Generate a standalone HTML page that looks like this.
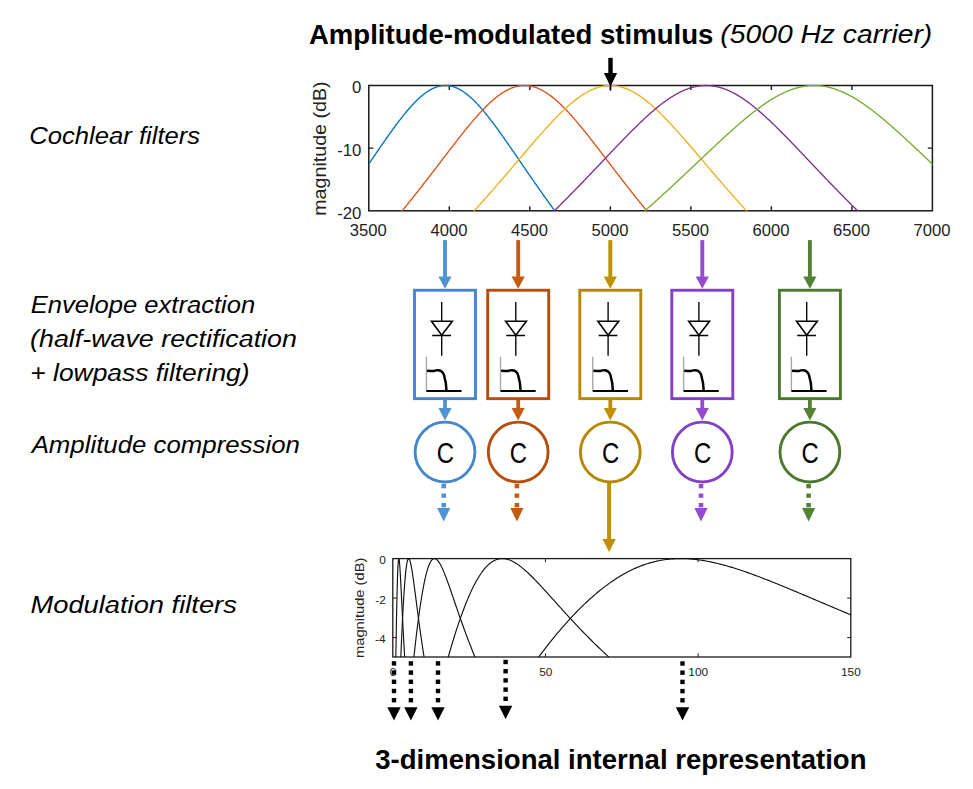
<!DOCTYPE html>
<html><head><meta charset="utf-8"><style>
html,body{margin:0;padding:0;background:#fff;overflow:hidden;}
svg{display:block;font-family:"Liberation Sans", sans-serif;font-kerning:none;font-variant-ligatures:none;}
</style></head><body>
<svg width="973" height="789" viewBox="0 0 973 789">
<rect width="973" height="789" fill="#fff"/>
<text x="308.91" y="43.60" font-size="27.5" font-weight="bold" font-style="normal" textLength="404.52" lengthAdjust="spacingAndGlyphs" fill="#000" >Amplitude-modulated stimulus</text>
<text x="720.38" y="43.30" font-size="26" font-weight="normal" font-style="italic" textLength="211.91" lengthAdjust="spacingAndGlyphs" fill="#000" >(5000 Hz carrier)</text>
<text x="375.27" y="768.60" font-size="27.5" font-weight="bold" font-style="normal" textLength="491.24" lengthAdjust="spacingAndGlyphs" fill="#000" >3-dimensional internal representation</text>
<text x="29.29" y="143.90" font-size="24.5" font-weight="normal" font-style="italic" textLength="170.84" lengthAdjust="spacingAndGlyphs" fill="#000" >Cochlear filters</text>
<text x="30.71" y="313.00" font-size="24.5" font-weight="normal" font-style="italic" textLength="224.45" lengthAdjust="spacingAndGlyphs" fill="#000" >Envelope extraction</text>
<text x="30.04" y="346.80" font-size="24.5" font-weight="normal" font-style="italic" textLength="266.88" lengthAdjust="spacingAndGlyphs" fill="#000" >(half-wave rectification</text>
<text x="30.33" y="380.90" font-size="24.5" font-weight="normal" font-style="italic" textLength="219.25" lengthAdjust="spacingAndGlyphs" fill="#000" >+ lowpass filtering)</text>
<text x="31.67" y="453.30" font-size="24.5" font-weight="normal" font-style="italic" textLength="268.20" lengthAdjust="spacingAndGlyphs" fill="#000" >Amplitude compression</text>
<text x="30.46" y="613.40" font-size="24.5" font-weight="normal" font-style="italic" textLength="206.40" lengthAdjust="spacingAndGlyphs" fill="#000" >Modulation filters</text>
<defs><clipPath id="cp1"><rect x="368.8" y="84.5" width="563.5999999999999" height="126.30000000000001"/></clipPath><clipPath id="cp2"><rect x="393.1" y="557.8" width="457.9" height="99.20000000000005"/></clipPath></defs>
<rect x="368.8" y="85.5" width="563.5999999999999" height="125.30000000000001" fill="none" stroke="#1a1a1a" stroke-width="1.5"/>
<path d="M449.31 210.8 v-4.6 M449.31 85.5 v4.6 M529.83 210.8 v-4.6 M529.83 85.5 v4.6 M610.34 210.8 v-4.6 M610.34 85.5 v4.6 M690.86 210.8 v-4.6 M690.86 85.5 v4.6 M771.37 210.8 v-4.6 M771.37 85.5 v4.6 M851.89 210.8 v-4.6 M851.89 85.5 v4.6 M368.8 148.15 h4.6 M932.4 148.15 h-4.6" stroke="#1a1a1a" stroke-width="1.4" fill="none"/>
<text x="349.81" y="236.00" font-size="16.3" font-weight="normal" font-style="normal" textLength="36.99" lengthAdjust="spacingAndGlyphs" fill="#222" >3500</text>
<text x="430.50" y="236.00" font-size="16.3" font-weight="normal" font-style="normal" textLength="36.99" lengthAdjust="spacingAndGlyphs" fill="#222" >4000</text>
<text x="511.06" y="236.00" font-size="16.3" font-weight="normal" font-style="normal" textLength="36.99" lengthAdjust="spacingAndGlyphs" fill="#222" >4500</text>
<text x="591.47" y="236.00" font-size="16.3" font-weight="normal" font-style="normal" textLength="36.99" lengthAdjust="spacingAndGlyphs" fill="#222" >5000</text>
<text x="672.03" y="236.00" font-size="16.3" font-weight="normal" font-style="normal" textLength="36.99" lengthAdjust="spacingAndGlyphs" fill="#222" >5500</text>
<text x="752.50" y="236.00" font-size="16.3" font-weight="normal" font-style="normal" textLength="36.99" lengthAdjust="spacingAndGlyphs" fill="#222" >6000</text>
<text x="833.05" y="236.00" font-size="16.3" font-weight="normal" font-style="normal" textLength="36.99" lengthAdjust="spacingAndGlyphs" fill="#222" >6500</text>
<text x="913.61" y="236.00" font-size="16.3" font-weight="normal" font-style="normal" textLength="36.99" lengthAdjust="spacingAndGlyphs" fill="#222" >7000</text>
<text x="352.12" y="93.10" font-size="16.3" font-weight="normal" font-style="normal" textLength="9.34" lengthAdjust="spacingAndGlyphs" fill="#222" >0</text>
<text x="337.19" y="155.75" font-size="16.3" font-weight="normal" font-style="normal" textLength="24.27" lengthAdjust="spacingAndGlyphs" fill="#222" >-10</text>
<text x="337.19" y="219.00" font-size="16.3" font-weight="normal" font-style="normal" textLength="24.27" lengthAdjust="spacingAndGlyphs" fill="#222" >-20</text>
<g transform="rotate(-90)"><text x="-215.81" y="326.00" font-size="18.5" font-weight="normal" font-style="normal" textLength="134.42" lengthAdjust="spacingAndGlyphs" fill="#222" >magnitude (dB)</text></g>
<polyline points="352.70,187.23 353.34,186.31 353.99,185.39 354.63,184.47 355.27,183.55 355.92,182.62 356.56,181.69 357.21,180.77 357.85,179.84 358.49,178.91 359.14,177.98 359.78,177.04 360.43,176.11 361.07,175.18 361.71,174.24 362.36,173.31 363.00,172.37 363.65,171.43 364.29,170.49 364.94,169.56 365.58,168.62 366.22,167.68 366.87,166.74 367.51,165.80 368.16,164.86 368.80,163.91 369.44,162.97 370.09,162.03 370.73,161.09 371.38,160.15 372.02,159.21 372.66,158.27 373.31,157.32 373.95,156.38 374.60,155.44 375.24,154.50 375.89,153.56 376.53,152.62 377.17,151.69 377.82,150.75 378.46,149.81 379.11,148.88 379.75,147.94 380.39,147.01 381.04,146.08 381.68,145.15 382.33,144.22 382.97,143.29 383.61,142.36 384.26,141.44 384.90,140.52 385.55,139.60 386.19,138.68 386.84,137.76 387.48,136.85 388.12,135.94 388.77,135.03 389.41,134.12 390.06,133.22 390.70,132.32 391.34,131.43 391.99,130.53 392.63,129.64 393.28,128.76 393.92,127.87 394.56,127.00 395.21,126.12 395.85,125.25 396.50,124.39 397.14,123.53 397.79,122.67 398.43,121.82 399.07,120.97 399.72,120.13 400.36,119.29 401.01,118.46 401.65,117.64 402.29,116.82 402.94,116.01 403.58,115.20 404.23,114.40 404.87,113.61 405.51,112.82 406.16,112.05 406.80,111.27 407.45,110.51 408.09,109.75 408.74,109.00 409.38,108.26 410.02,107.53 410.67,106.81 411.31,106.09 411.96,105.38 412.60,104.69 413.24,104.00 413.89,103.32 414.53,102.65 415.18,101.99 415.82,101.34 416.46,100.70 417.11,100.07 417.75,99.45 418.40,98.85 419.04,98.25 419.69,97.66 420.33,97.09 420.97,96.53 421.62,95.98 422.26,95.44 422.91,94.92 423.55,94.40 424.19,93.90 424.84,93.42 425.48,92.94 426.13,92.48 426.77,92.03 427.41,91.60 428.06,91.18 428.70,90.77 429.35,90.38 429.99,90.00 430.63,89.64 431.28,89.29 431.92,88.95 432.57,88.63 433.21,88.33 433.86,88.04 434.50,87.76 435.14,87.50 435.79,87.26 436.43,87.03 437.08,86.82 437.72,86.62 438.36,86.44 439.01,86.27 439.65,86.12 440.30,85.99 440.94,85.87 441.58,85.77 442.23,85.68 442.87,85.61 443.52,85.56 444.16,85.52 444.81,85.50 445.45,85.50 446.09,85.51 446.74,85.54 447.38,85.59 448.03,85.65 448.67,85.72 449.31,85.82 449.96,85.93 450.60,86.05 451.25,86.19 451.89,86.35 452.53,86.53 453.18,86.72 453.82,86.92 454.47,87.14 455.11,87.38 455.76,87.63 456.40,87.90 457.04,88.18 457.69,88.48 458.33,88.79 458.98,89.12 459.62,89.46 460.26,89.82 460.91,90.19 461.55,90.57 462.20,90.97 462.84,91.39 463.48,91.81 464.13,92.26 464.77,92.71 465.42,93.18 466.06,93.66 466.71,94.15 467.35,94.66 467.99,95.18 468.64,95.71 469.28,96.25 469.93,96.81 470.57,97.38 471.21,97.96 471.86,98.55 472.50,99.15 473.15,99.76 473.79,100.38 474.43,101.02 475.08,101.66 475.72,102.32 476.37,102.98 477.01,103.66 477.66,104.34 478.30,105.03 478.94,105.74 479.59,106.45 480.23,107.17 480.88,107.89 481.52,108.63 482.16,109.38 482.81,110.13 483.45,110.89 484.10,111.66 484.74,112.43 485.38,113.22 486.03,114.01 486.67,114.80 487.32,115.61 487.96,116.41 488.61,117.23 489.25,118.05 489.89,118.88 490.54,119.71 491.18,120.55 491.83,121.39 492.47,122.24 493.11,123.10 493.76,123.96 494.40,124.82 495.05,125.69 495.69,126.56 496.33,127.44 496.98,128.32 497.62,129.20 498.27,130.09 498.91,130.98 499.56,131.87 500.20,132.77 500.84,133.67 501.49,134.58 502.13,135.48 502.78,136.39 503.42,137.31 504.06,138.22 504.71,139.14 505.35,140.06 506.00,140.98 506.64,141.90 507.28,142.83 507.93,143.75 508.57,144.68 509.22,145.61 509.86,146.54 510.51,147.48 511.15,148.41 511.79,149.34 512.44,150.28 513.08,151.22 513.73,152.16 514.37,153.09 515.01,154.03 515.66,154.97 516.30,155.91 516.95,156.85 517.59,157.79 518.23,158.74 518.88,159.68 519.52,160.62 520.17,161.56 520.81,162.50 521.46,163.44 522.10,164.38 522.74,165.33 523.39,166.27 524.03,167.21 524.68,168.15 525.32,169.09 525.96,170.02 526.61,170.96 527.25,171.90 527.90,172.84 528.54,173.77 529.18,174.71 529.83,175.64 530.47,176.58 531.12,177.51 531.76,178.44 532.41,179.37 533.05,180.30 533.69,181.23 534.34,182.16 534.98,183.08 535.63,184.01 536.27,184.93 536.91,185.85 537.56,186.77 538.20,187.69 538.85,188.61 539.49,189.53 540.13,190.44 540.78,191.36 541.42,192.27 542.07,193.18 542.71,194.09 543.35,195.00 544.00,195.91 544.64,196.81 545.29,197.71 545.93,198.61 546.58,199.51 547.22,200.41 547.86,201.31 548.51,202.20 549.15,203.09 549.80,203.98 550.44,204.87 551.08,205.76 551.73,206.65 552.37,207.53 553.02,208.41 553.66,209.29 554.30,210.17 554.95,211.05 555.59,211.92 556.24,212.79 556.88,213.66 557.53,214.53 558.17,215.40 558.81,216.26 559.46,217.12 560.10,217.98 560.75,218.84 561.39,219.70" fill="none" stroke="#0072BD" stroke-width="1.35" clip-path="url(#cp1)"/>
<polyline points="394.56,219.95 395.21,219.18 395.85,218.41 396.50,217.64 397.14,216.87 397.79,216.10 398.43,215.32 399.07,214.55 399.72,213.77 400.36,212.99 401.01,212.21 401.65,211.43 402.29,210.65 402.94,209.86 403.58,209.08 404.23,208.29 404.87,207.50 405.51,206.71 406.16,205.91 406.80,205.12 407.45,204.32 408.09,203.53 408.74,202.73 409.38,201.93 410.02,201.13 410.67,200.33 411.31,199.52 411.96,198.72 412.60,197.91 413.24,197.10 413.89,196.29 414.53,195.48 415.18,194.67 415.82,193.86 416.46,193.04 417.11,192.23 417.75,191.41 418.40,190.59 419.04,189.77 419.69,188.95 420.33,188.13 420.97,187.31 421.62,186.49 422.26,185.66 422.91,184.83 423.55,184.01 424.19,183.18 424.84,182.35 425.48,181.52 426.13,180.69 426.77,179.86 427.41,179.03 428.06,178.19 428.70,177.36 429.35,176.52 429.99,175.69 430.63,174.85 431.28,174.01 431.92,173.18 432.57,172.34 433.21,171.50 433.86,170.66 434.50,169.82 435.14,168.98 435.79,168.14 436.43,167.29 437.08,166.45 437.72,165.61 438.36,164.77 439.01,163.93 439.65,163.08 440.30,162.24 440.94,161.40 441.58,160.55 442.23,159.71 442.87,158.87 443.52,158.03 444.16,157.18 444.81,156.34 445.45,155.50 446.09,154.66 446.74,153.82 447.38,152.97 448.03,152.13 448.67,151.29 449.31,150.46 449.96,149.62 450.60,148.78 451.25,147.94 451.89,147.11 452.53,146.27 453.18,145.44 453.82,144.61 454.47,143.78 455.11,142.95 455.76,142.12 456.40,141.29 457.04,140.46 457.69,139.64 458.33,138.82 458.98,138.00 459.62,137.18 460.26,136.36 460.91,135.55 461.55,134.74 462.20,133.93 462.84,133.12 463.48,132.31 464.13,131.51 464.77,130.71 465.42,129.91 466.06,129.12 466.71,128.33 467.35,127.54 467.99,126.75 468.64,125.97 469.28,125.19 469.93,124.42 470.57,123.65 471.21,122.88 471.86,122.12 472.50,121.36 473.15,120.60 473.79,119.85 474.43,119.10 475.08,118.36 475.72,117.62 476.37,116.89 477.01,116.16 477.66,115.44 478.30,114.72 478.94,114.01 479.59,113.30 480.23,112.60 480.88,111.90 481.52,111.21 482.16,110.53 482.81,109.85 483.45,109.18 484.10,108.51 484.74,107.86 485.38,107.20 486.03,106.56 486.67,105.92 487.32,105.29 487.96,104.66 488.61,104.05 489.25,103.44 489.89,102.84 490.54,102.24 491.18,101.66 491.83,101.08 492.47,100.51 493.11,99.95 493.76,99.40 494.40,98.86 495.05,98.32 495.69,97.80 496.33,97.28 496.98,96.77 497.62,96.28 498.27,95.79 498.91,95.31 499.56,94.84 500.20,94.38 500.84,93.94 501.49,93.50 502.13,93.07 502.78,92.65 503.42,92.25 504.06,91.85 504.71,91.47 505.35,91.09 506.00,90.73 506.64,90.38 507.28,90.04 507.93,89.71 508.57,89.40 509.22,89.09 509.86,88.80 510.51,88.52 511.15,88.25 511.79,87.99 512.44,87.75 513.08,87.52 513.73,87.30 514.37,87.09 515.01,86.89 515.66,86.71 516.30,86.54 516.95,86.38 517.59,86.24 518.23,86.11 518.88,85.99 519.52,85.88 520.17,85.79 520.81,85.71 521.46,85.64 522.10,85.59 522.74,85.55 523.39,85.52 524.03,85.50 524.68,85.50 525.32,85.51 525.96,85.54 526.61,85.57 527.25,85.62 527.90,85.69 528.54,85.76 529.18,85.85 529.83,85.95 530.47,86.07 531.12,86.20 531.76,86.34 532.41,86.49 533.05,86.66 533.69,86.84 534.34,87.03 534.98,87.23 535.63,87.45 536.27,87.68 536.91,87.92 537.56,88.17 538.20,88.44 538.85,88.71 539.49,89.00 540.13,89.30 540.78,89.62 541.42,89.94 542.07,90.28 542.71,90.63 543.35,90.98 544.00,91.35 544.64,91.74 545.29,92.13 545.93,92.53 546.58,92.94 547.22,93.37 547.86,93.80 548.51,94.25 549.15,94.70 549.80,95.17 550.44,95.64 551.08,96.13 551.73,96.62 552.37,97.13 553.02,97.64 553.66,98.16 554.30,98.69 554.95,99.23 555.59,99.78 556.24,100.34 556.88,100.91 557.53,101.48 558.17,102.07 558.81,102.66 559.46,103.26 560.10,103.86 560.75,104.48 561.39,105.10 562.03,105.73 562.68,106.36 563.32,107.01 563.97,107.66 564.61,108.32 565.25,108.98 565.90,109.65 566.54,110.32 567.19,111.01 567.83,111.70 568.48,112.39 569.12,113.09 569.76,113.80 570.41,114.51 571.05,115.22 571.70,115.94 572.34,116.67 572.98,117.40 573.63,118.14 574.27,118.88 574.92,119.63 575.56,120.38 576.20,121.13 576.85,121.89 577.49,122.65 578.14,123.42 578.78,124.19 579.43,124.96 580.07,125.74 580.71,126.52 581.36,127.30 582.00,128.09 582.65,128.88 583.29,129.67 583.93,130.47 584.58,131.27 585.22,132.07 585.87,132.88 586.51,133.68 587.15,134.49 587.80,135.30 588.44,136.12 589.09,136.93 589.73,137.75 590.38,138.57 591.02,139.39 591.66,140.22 592.31,141.04 592.95,141.87 593.60,142.70 594.24,143.53 594.88,144.36 595.53,145.19 596.17,146.02 596.82,146.86 597.46,147.69 598.10,148.53 598.75,149.37 599.39,150.20 600.04,151.04 600.68,151.88 601.33,152.72 601.97,153.56 602.61,154.40 603.26,155.25 603.90,156.09 604.55,156.93 605.19,157.77 605.83,158.61 606.48,159.46 607.12,160.30 607.77,161.14 608.41,161.99 609.05,162.83 609.70,163.67 610.34,164.51 610.99,165.36 611.63,166.20 612.28,167.04 612.92,167.88 613.56,168.72 614.21,169.56 614.85,170.41 615.50,171.25 616.14,172.08 616.78,172.92 617.43,173.76 618.07,174.60 618.72,175.44 619.36,176.27 620.00,177.11 620.65,177.94 621.29,178.77 621.94,179.61 622.58,180.44 623.23,181.27 623.87,182.10 624.51,182.93 625.16,183.76 625.80,184.59 626.45,185.41 627.09,186.24 627.73,187.06 628.38,187.88 629.02,188.71 629.67,189.53 630.31,190.35 630.95,191.16 631.60,191.98 632.24,192.80 632.89,193.61 633.53,194.43 634.18,195.24 634.82,196.05 635.46,196.86 636.11,197.67 636.75,198.47 637.40,199.28 638.04,200.08 638.68,200.89 639.33,201.69 639.97,202.49 640.62,203.29 641.26,204.09 641.90,204.88 642.55,205.68 643.19,206.47 643.84,207.26 644.48,208.05 645.13,208.84 645.77,209.63 646.41,210.41 647.06,211.19 647.70,211.98 648.35,212.76 648.99,213.54 649.63,214.32 650.28,215.09 650.92,215.87 651.57,216.64 652.21,217.41 652.85,218.18 653.50,218.95 654.14,219.72" fill="none" stroke="#D95319" stroke-width="1.35" clip-path="url(#cp1)"/>
<polyline points="466.06,219.56 466.71,218.87 467.35,218.18 467.99,217.49 468.64,216.80 469.28,216.11 469.93,215.41 470.57,214.71 471.21,214.02 471.86,213.32 472.50,212.62 473.15,211.92 473.79,211.21 474.43,210.51 475.08,209.80 475.72,209.10 476.37,208.39 477.01,207.68 477.66,206.97 478.30,206.26 478.94,205.55 479.59,204.83 480.23,204.12 480.88,203.40 481.52,202.69 482.16,201.97 482.81,201.25 483.45,200.53 484.10,199.81 484.74,199.09 485.38,198.36 486.03,197.64 486.67,196.91 487.32,196.18 487.96,195.46 488.61,194.73 489.25,194.00 489.89,193.27 490.54,192.53 491.18,191.80 491.83,191.07 492.47,190.33 493.11,189.60 493.76,188.86 494.40,188.12 495.05,187.38 495.69,186.64 496.33,185.90 496.98,185.16 497.62,184.42 498.27,183.68 498.91,182.93 499.56,182.19 500.20,181.44 500.84,180.70 501.49,179.95 502.13,179.20 502.78,178.45 503.42,177.70 504.06,176.96 504.71,176.20 505.35,175.45 506.00,174.70 506.64,173.95 507.28,173.20 507.93,172.45 508.57,171.69 509.22,170.94 509.86,170.18 510.51,169.43 511.15,168.67 511.79,167.92 512.44,167.16 513.08,166.41 513.73,165.65 514.37,164.89 515.01,164.14 515.66,163.38 516.30,162.62 516.95,161.87 517.59,161.11 518.23,160.35 518.88,159.60 519.52,158.84 520.17,158.08 520.81,157.33 521.46,156.57 522.10,155.81 522.74,155.06 523.39,154.30 524.03,153.55 524.68,152.79 525.32,152.04 525.96,151.28 526.61,150.53 527.25,149.78 527.90,149.02 528.54,148.27 529.18,147.52 529.83,146.77 530.47,146.02 531.12,145.27 531.76,144.53 532.41,143.78 533.05,143.04 533.69,142.29 534.34,141.55 534.98,140.81 535.63,140.07 536.27,139.33 536.91,138.59 537.56,137.85 538.20,137.12 538.85,136.38 539.49,135.65 540.13,134.92 540.78,134.20 541.42,133.47 542.07,132.75 542.71,132.02 543.35,131.30 544.00,130.59 544.64,129.87 545.29,129.16 545.93,128.45 546.58,127.74 547.22,127.03 547.86,126.33 548.51,125.63 549.15,124.93 549.80,124.23 550.44,123.54 551.08,122.85 551.73,122.17 552.37,121.49 553.02,120.81 553.66,120.13 554.30,119.46 554.95,118.79 555.59,118.12 556.24,117.46 556.88,116.81 557.53,116.15 558.17,115.50 558.81,114.86 559.46,114.22 560.10,113.58 560.75,112.95 561.39,112.32 562.03,111.70 562.68,111.08 563.32,110.46 563.97,109.85 564.61,109.25 565.25,108.65 565.90,108.06 566.54,107.47 567.19,106.89 567.83,106.31 568.48,105.74 569.12,105.18 569.76,104.62 570.41,104.06 571.05,103.52 571.70,102.97 572.34,102.44 572.98,101.91 573.63,101.39 574.27,100.87 574.92,100.36 575.56,99.86 576.20,99.37 576.85,98.88 577.49,98.40 578.14,97.93 578.78,97.46 579.43,97.00 580.07,96.55 580.71,96.11 581.36,95.67 582.00,95.24 582.65,94.82 583.29,94.41 583.93,94.01 584.58,93.61 585.22,93.23 585.87,92.85 586.51,92.48 587.15,92.12 587.80,91.77 588.44,91.42 589.09,91.09 589.73,90.76 590.38,90.45 591.02,90.14 591.66,89.84 592.31,89.55 592.95,89.27 593.60,89.00 594.24,88.74 594.88,88.49 595.53,88.25 596.17,88.02 596.82,87.80 597.46,87.59 598.10,87.38 598.75,87.19 599.39,87.01 600.04,86.84 600.68,86.68 601.33,86.53 601.97,86.39 602.61,86.26 603.26,86.14 603.90,86.03 604.55,85.93 605.19,85.84 605.83,85.76 606.48,85.69 607.12,85.63 607.77,85.58 608.41,85.55 609.05,85.52 609.70,85.51 610.34,85.50 610.99,85.51 611.63,85.52 612.28,85.55 612.92,85.58 613.56,85.63 614.21,85.69 614.85,85.76 615.50,85.84 616.14,85.93 616.78,86.03 617.43,86.14 618.07,86.26 618.72,86.39 619.36,86.53 620.00,86.68 620.65,86.84 621.29,87.01 621.94,87.19 622.58,87.38 623.23,87.59 623.87,87.80 624.51,88.02 625.16,88.25 625.80,88.49 626.45,88.74 627.09,89.00 627.73,89.27 628.38,89.55 629.02,89.84 629.67,90.14 630.31,90.45 630.95,90.76 631.60,91.09 632.24,91.42 632.89,91.77 633.53,92.12 634.18,92.48 634.82,92.85 635.46,93.23 636.11,93.61 636.75,94.01 637.40,94.41 638.04,94.82 638.68,95.24 639.33,95.67 639.97,96.11 640.62,96.55 641.26,97.00 641.90,97.46 642.55,97.93 643.19,98.40 643.84,98.88 644.48,99.37 645.13,99.86 645.77,100.36 646.41,100.87 647.06,101.39 647.70,101.91 648.35,102.44 648.99,102.97 649.63,103.52 650.28,104.06 650.92,104.62 651.57,105.18 652.21,105.74 652.85,106.31 653.50,106.89 654.14,107.47 654.79,108.06 655.43,108.65 656.07,109.25 656.72,109.85 657.36,110.46 658.01,111.08 658.65,111.70 659.30,112.32 659.94,112.95 660.58,113.58 661.23,114.22 661.87,114.86 662.52,115.50 663.16,116.15 663.80,116.81 664.45,117.46 665.09,118.12 665.74,118.79 666.38,119.46 667.02,120.13 667.67,120.81 668.31,121.49 668.96,122.17 669.60,122.85 670.25,123.54 670.89,124.23 671.53,124.93 672.18,125.63 672.82,126.33 673.47,127.03 674.11,127.74 674.75,128.45 675.40,129.16 676.04,129.87 676.69,130.59 677.33,131.30 677.97,132.02 678.62,132.75 679.26,133.47 679.91,134.20 680.55,134.92 681.20,135.65 681.84,136.38 682.48,137.12 683.13,137.85 683.77,138.59 684.42,139.33 685.06,140.07 685.70,140.81 686.35,141.55 686.99,142.29 687.64,143.04 688.28,143.78 688.92,144.53 689.57,145.27 690.21,146.02 690.86,146.77 691.50,147.52 692.15,148.27 692.79,149.02 693.43,149.78 694.08,150.53 694.72,151.28 695.37,152.04 696.01,152.79 696.65,153.55 697.30,154.30 697.94,155.06 698.59,155.81 699.23,156.57 699.87,157.33 700.52,158.08 701.16,158.84 701.81,159.60 702.45,160.35 703.10,161.11 703.74,161.87 704.38,162.62 705.03,163.38 705.67,164.14 706.32,164.89 706.96,165.65 707.60,166.41 708.25,167.16 708.89,167.92 709.54,168.67 710.18,169.43 710.82,170.18 711.47,170.94 712.11,171.69 712.76,172.45 713.40,173.20 714.05,173.95 714.69,174.70 715.33,175.45 715.98,176.20 716.62,176.96 717.27,177.70 717.91,178.45 718.55,179.20 719.20,179.95 719.84,180.70 720.49,181.44 721.13,182.19 721.77,182.93 722.42,183.68 723.06,184.42 723.71,185.16 724.35,185.90 725.00,186.64 725.64,187.38 726.28,188.12 726.93,188.86 727.57,189.60 728.22,190.33 728.86,191.07 729.50,191.80 730.15,192.53 730.79,193.27 731.44,194.00 732.08,194.73 732.72,195.46 733.37,196.18 734.01,196.91 734.66,197.64 735.30,198.36 735.95,199.09 736.59,199.81 737.23,200.53 737.88,201.25 738.52,201.97 739.17,202.69 739.81,203.40 740.45,204.12 741.10,204.83 741.74,205.55 742.39,206.26 743.03,206.97 743.67,207.68 744.32,208.39 744.96,209.10 745.61,209.80 746.25,210.51 746.90,211.21 747.54,211.92 748.18,212.62 748.83,213.32 749.47,214.02 750.12,214.71 750.76,215.41 751.40,216.11 752.05,216.80 752.69,217.49 753.34,218.18 753.98,218.87 754.62,219.56" fill="none" stroke="#EDB120" stroke-width="1.35" clip-path="url(#cp1)"/>
<polyline points="545.29,219.60 545.93,218.98 546.58,218.36 547.22,217.74 547.86,217.12 548.51,216.49 549.15,215.87 549.80,215.24 550.44,214.62 551.08,213.99 551.73,213.36 552.37,212.74 553.02,212.11 553.66,211.48 554.30,210.84 554.95,210.21 555.59,209.58 556.24,208.94 556.88,208.31 557.53,207.67 558.17,207.03 558.81,206.40 559.46,205.76 560.10,205.12 560.75,204.47 561.39,203.83 562.03,203.19 562.68,202.54 563.32,201.90 563.97,201.25 564.61,200.61 565.25,199.96 565.90,199.31 566.54,198.66 567.19,198.01 567.83,197.36 568.48,196.71 569.12,196.05 569.76,195.40 570.41,194.75 571.05,194.09 571.70,193.43 572.34,192.78 572.98,192.12 573.63,191.46 574.27,190.80 574.92,190.14 575.56,189.48 576.20,188.82 576.85,188.15 577.49,187.49 578.14,186.83 578.78,186.16 579.43,185.50 580.07,184.83 580.71,184.16 581.36,183.50 582.00,182.83 582.65,182.16 583.29,181.49 583.93,180.82 584.58,180.15 585.22,179.48 585.87,178.81 586.51,178.14 587.15,177.46 587.80,176.79 588.44,176.12 589.09,175.44 589.73,174.77 590.38,174.09 591.02,173.42 591.66,172.74 592.31,172.06 592.95,171.39 593.60,170.71 594.24,170.03 594.88,169.35 595.53,168.68 596.17,168.00 596.82,167.32 597.46,166.64 598.10,165.96 598.75,165.28 599.39,164.60 600.04,163.92 600.68,163.24 601.33,162.57 601.97,161.89 602.61,161.21 603.26,160.53 603.90,159.85 604.55,159.17 605.19,158.49 605.83,157.81 606.48,157.13 607.12,156.45 607.77,155.77 608.41,155.09 609.05,154.41 609.70,153.73 610.34,153.06 610.99,152.38 611.63,151.70 612.28,151.02 612.92,150.35 613.56,149.67 614.21,149.00 614.85,148.32 615.50,147.65 616.14,146.97 616.78,146.30 617.43,145.63 618.07,144.96 618.72,144.29 619.36,143.62 620.00,142.95 620.65,142.28 621.29,141.61 621.94,140.94 622.58,140.28 623.23,139.61 623.87,138.95 624.51,138.29 625.16,137.63 625.80,136.97 626.45,136.31 627.09,135.65 627.73,135.00 628.38,134.35 629.02,133.69 629.67,133.04 630.31,132.39 630.95,131.74 631.60,131.10 632.24,130.45 632.89,129.81 633.53,129.17 634.18,128.53 634.82,127.90 635.46,127.26 636.11,126.63 636.75,126.00 637.40,125.37 638.04,124.75 638.68,124.12 639.33,123.50 639.97,122.88 640.62,122.27 641.26,121.65 641.90,121.04 642.55,120.43 643.19,119.83 643.84,119.23 644.48,118.63 645.13,118.03 645.77,117.44 646.41,116.85 647.06,116.26 647.70,115.67 648.35,115.09 648.99,114.52 649.63,113.94 650.28,113.37 650.92,112.81 651.57,112.24 652.21,111.68 652.85,111.13 653.50,110.58 654.14,110.03 654.79,109.48 655.43,108.95 656.07,108.41 656.72,107.88 657.36,107.35 658.01,106.83 658.65,106.31 659.30,105.80 659.94,105.29 660.58,104.79 661.23,104.29 661.87,103.79 662.52,103.30 663.16,102.82 663.80,102.34 664.45,101.87 665.09,101.40 665.74,100.94 666.38,100.48 667.02,100.03 667.67,99.58 668.31,99.14 668.96,98.70 669.60,98.27 670.25,97.85 670.89,97.43 671.53,97.02 672.18,96.61 672.82,96.21 673.47,95.82 674.11,95.43 674.75,95.05 675.40,94.68 676.04,94.31 676.69,93.95 677.33,93.60 677.97,93.25 678.62,92.91 679.26,92.58 679.91,92.25 680.55,91.93 681.20,91.62 681.84,91.31 682.48,91.01 683.13,90.72 683.77,90.44 684.42,90.16 685.06,89.89 685.70,89.63 686.35,89.38 686.99,89.13 687.64,88.89 688.28,88.66 688.92,88.44 689.57,88.23 690.21,88.02 690.86,87.82 691.50,87.63 692.15,87.44 692.79,87.27 693.43,87.10 694.08,86.94 694.72,86.79 695.37,86.65 696.01,86.52 696.65,86.39 697.30,86.27 697.94,86.16 698.59,86.06 699.23,85.97 699.87,85.88 700.52,85.81 701.16,85.74 701.81,85.68 702.45,85.63 703.10,85.59 703.74,85.55 704.38,85.53 705.03,85.51 705.67,85.50 706.32,85.50 706.96,85.51 707.60,85.53 708.25,85.55 708.89,85.59 709.54,85.63 710.18,85.68 710.82,85.74 711.47,85.81 712.11,85.88 712.76,85.97 713.40,86.06 714.05,86.16 714.69,86.27 715.33,86.39 715.98,86.52 716.62,86.65 717.27,86.79 717.91,86.94 718.55,87.10 719.20,87.27 719.84,87.45 720.49,87.63 721.13,87.82 721.77,88.02 722.42,88.23 723.06,88.44 723.71,88.66 724.35,88.90 725.00,89.13 725.64,89.38 726.28,89.63 726.93,89.90 727.57,90.16 728.22,90.44 728.86,90.72 729.50,91.01 730.15,91.31 730.79,91.62 731.44,91.93 732.08,92.25 732.72,92.58 733.37,92.91 734.01,93.25 734.66,93.60 735.30,93.95 735.95,94.31 736.59,94.68 737.23,95.06 737.88,95.44 738.52,95.82 739.17,96.22 739.81,96.62 740.45,97.02 741.10,97.43 741.74,97.85 742.39,98.27 743.03,98.70 743.67,99.14 744.32,99.58 744.96,100.03 745.61,100.48 746.25,100.94 746.90,101.40 747.54,101.87 748.18,102.34 748.83,102.82 749.47,103.31 750.12,103.80 750.76,104.29 751.40,104.79 752.05,105.29 752.69,105.80 753.34,106.31 753.98,106.83 754.62,107.35 755.27,107.88 755.91,108.41 756.56,108.95 757.20,109.49 757.85,110.03 758.49,110.58 759.13,111.13 759.78,111.69 760.42,112.24 761.07,112.81 761.71,113.37 762.35,113.94 763.00,114.52 763.64,115.10 764.29,115.68 764.93,116.26 765.57,116.85 766.22,117.44 766.86,118.03 767.51,118.63 768.15,119.23 768.79,119.83 769.44,120.44 770.08,121.04 770.73,121.66 771.37,122.27 772.02,122.89 772.66,123.50 773.30,124.12 773.95,124.75 774.59,125.37 775.24,126.00 775.88,126.63 776.52,127.26 777.17,127.90 777.81,128.54 778.46,129.17 779.10,129.82 779.74,130.46 780.39,131.10 781.03,131.75 781.68,132.40 782.32,133.04 782.97,133.70 783.61,134.35 784.25,135.00 784.90,135.66 785.54,136.31 786.19,136.97 786.83,137.63 787.47,138.29 788.12,138.95 788.76,139.62 789.41,140.28 790.05,140.95 790.69,141.61 791.34,142.28 791.98,142.95 792.63,143.62 793.27,144.29 793.92,144.96 794.56,145.63 795.20,146.30 795.85,146.98 796.49,147.65 797.14,148.32 797.78,149.00 798.42,149.67 799.07,150.35 799.71,151.03 800.36,151.70 801.00,152.38 801.64,153.06 802.29,153.74 802.93,154.41 803.58,155.09 804.22,155.77 804.87,156.45 805.51,157.13 806.15,157.81 806.80,158.49 807.44,159.17 808.09,159.85 808.73,160.53 809.37,161.21 810.02,161.89 810.66,162.57 811.31,163.25 811.95,163.93 812.59,164.61 813.24,165.29 813.88,165.96 814.53,166.64 815.17,167.32 815.82,168.00 816.46,168.68 817.10,169.36 817.75,170.04 818.39,170.71 819.04,171.39 819.68,172.07 820.32,172.74 820.97,173.42 821.61,174.09 822.26,174.77 822.90,175.44 823.54,176.12 824.19,176.79 824.83,177.47 825.48,178.14 826.12,178.81 826.77,179.48 827.41,180.15 828.05,180.82 828.70,181.49 829.34,182.16 829.99,182.83 830.63,183.50 831.27,184.17 831.92,184.83 832.56,185.50 833.21,186.17 833.85,186.83 834.49,187.49 835.14,188.16 835.78,188.82 836.43,189.48 837.07,190.14 837.72,190.80 838.36,191.46 839.00,192.12 839.65,192.78 840.29,193.44 840.94,194.09 841.58,194.75 842.22,195.40 842.87,196.06 843.51,196.71 844.16,197.36 844.80,198.01 845.44,198.66 846.09,199.31 846.73,199.96 847.38,200.61 848.02,201.26 848.67,201.90 849.31,202.55 849.95,203.19 850.60,203.83 851.24,204.48 851.89,205.12 852.53,205.76 853.17,206.40 853.82,207.04 854.46,207.67 855.11,208.31 855.75,208.95 856.39,209.58 857.04,210.21 857.68,210.85 858.33,211.48 858.97,212.11 859.62,212.74 860.26,213.37 860.90,213.99 861.55,214.62 862.19,215.25 862.84,215.87 863.48,216.50 864.12,217.12 864.77,217.74 865.41,218.36 866.06,218.98 866.70,219.60" fill="none" stroke="#7E2F8E" stroke-width="1.35" clip-path="url(#cp1)"/>
<polyline points="634.18,220.15 634.82,219.60 635.46,219.04 636.11,218.49 636.75,217.93 637.40,217.37 638.04,216.81 638.68,216.26 639.33,215.70 639.97,215.14 640.62,214.58 641.26,214.01 641.90,213.45 642.55,212.89 643.19,212.32 643.84,211.76 644.48,211.19 645.13,210.62 645.77,210.06 646.41,209.49 647.06,208.92 647.70,208.35 648.35,207.78 648.99,207.21 649.63,206.64 650.28,206.06 650.92,205.49 651.57,204.91 652.21,204.34 652.85,203.76 653.50,203.19 654.14,202.61 654.79,202.03 655.43,201.45 656.07,200.87 656.72,200.29 657.36,199.71 658.01,199.13 658.65,198.55 659.30,197.96 659.94,197.38 660.58,196.79 661.23,196.21 661.87,195.62 662.52,195.04 663.16,194.45 663.80,193.86 664.45,193.27 665.09,192.68 665.74,192.09 666.38,191.50 667.02,190.91 667.67,190.32 668.31,189.73 668.96,189.13 669.60,188.54 670.25,187.95 670.89,187.35 671.53,186.75 672.18,186.16 672.82,185.56 673.47,184.96 674.11,184.37 674.75,183.77 675.40,183.17 676.04,182.57 676.69,181.97 677.33,181.37 677.97,180.77 678.62,180.17 679.26,179.57 679.91,178.96 680.55,178.36 681.20,177.76 681.84,177.16 682.48,176.55 683.13,175.95 683.77,175.34 684.42,174.74 685.06,174.13 685.70,173.53 686.35,172.92 686.99,172.31 687.64,171.71 688.28,171.10 688.92,170.49 689.57,169.89 690.21,169.28 690.86,168.67 691.50,168.06 692.15,167.45 692.79,166.85 693.43,166.24 694.08,165.63 694.72,165.02 695.37,164.41 696.01,163.80 696.65,163.19 697.30,162.58 697.94,161.97 698.59,161.36 699.23,160.75 699.87,160.14 700.52,159.53 701.16,158.92 701.81,158.31 702.45,157.71 703.10,157.10 703.74,156.49 704.38,155.88 705.03,155.27 705.67,154.66 706.32,154.05 706.96,153.44 707.60,152.84 708.25,152.23 708.89,151.62 709.54,151.01 710.18,150.41 710.82,149.80 711.47,149.20 712.11,148.59 712.76,147.99 713.40,147.38 714.05,146.78 714.69,146.17 715.33,145.57 715.98,144.97 716.62,144.37 717.27,143.77 717.91,143.17 718.55,142.57 719.20,141.97 719.84,141.37 720.49,140.77 721.13,140.18 721.77,139.58 722.42,138.99 723.06,138.39 723.71,137.80 724.35,137.21 725.00,136.62 725.64,136.03 726.28,135.44 726.93,134.85 727.57,134.27 728.22,133.68 728.86,133.10 729.50,132.52 730.15,131.93 730.79,131.36 731.44,130.78 732.08,130.20 732.72,129.62 733.37,129.05 734.01,128.48 734.66,127.91 735.30,127.34 735.95,126.77 736.59,126.21 737.23,125.64 737.88,125.08 738.52,124.52 739.17,123.96 739.81,123.40 740.45,122.85 741.10,122.30 741.74,121.75 742.39,121.20 743.03,120.65 743.67,120.11 744.32,119.57 744.96,119.03 745.61,118.49 746.25,117.96 746.90,117.42 747.54,116.89 748.18,116.37 748.83,115.84 749.47,115.32 750.12,114.80 750.76,114.29 751.40,113.77 752.05,113.26 752.69,112.75 753.34,112.25 753.98,111.75 754.62,111.25 755.27,110.75 755.91,110.26 756.56,109.77 757.20,109.29 757.85,108.80 758.49,108.32 759.13,107.85 759.78,107.38 760.42,106.91 761.07,106.44 761.71,105.98 762.35,105.52 763.00,105.07 763.64,104.62 764.29,104.17 764.93,103.73 765.57,103.29 766.22,102.86 766.86,102.43 767.51,102.00 768.15,101.58 768.79,101.16 769.44,100.75 770.08,100.34 770.73,99.94 771.37,99.54 772.02,99.14 772.66,98.75 773.30,98.37 773.95,97.98 774.59,97.61 775.24,97.24 775.88,96.87 776.52,96.51 777.17,96.15 777.81,95.80 778.46,95.45 779.10,95.11 779.74,94.77 780.39,94.44 781.03,94.12 781.68,93.80 782.32,93.48 782.97,93.17 783.61,92.87 784.25,92.57 784.90,92.27 785.54,91.99 786.19,91.71 786.83,91.43 787.47,91.16 788.12,90.89 788.76,90.64 789.41,90.38 790.05,90.14 790.69,89.90 791.34,89.66 791.98,89.43 792.63,89.21 793.27,88.99 793.92,88.78 794.56,88.58 795.20,88.38 795.85,88.19 796.49,88.01 797.14,87.83 797.78,87.65 798.42,87.49 799.07,87.33 799.71,87.18 800.36,87.03 801.00,86.89 801.64,86.76 802.29,86.63 802.93,86.51 803.58,86.40 804.22,86.29 804.87,86.19 805.51,86.10 806.15,86.01 806.80,85.93 807.44,85.86 808.09,85.79 808.73,85.73 809.37,85.68 810.02,85.63 810.66,85.59 811.31,85.56 811.95,85.54 812.59,85.52 813.24,85.51 813.88,85.50 814.53,85.50 815.17,85.51 815.82,85.53 816.46,85.55 817.10,85.58 817.75,85.61 818.39,85.66 819.04,85.70 819.68,85.76 820.32,85.82 820.97,85.89 821.61,85.97 822.26,86.05 822.90,86.14 823.54,86.24 824.19,86.34 824.83,86.45 825.48,86.57 826.12,86.69 826.77,86.82 827.41,86.96 828.05,87.10 828.70,87.25 829.34,87.41 829.99,87.57 830.63,87.74 831.27,87.92 831.92,88.10 832.56,88.29 833.21,88.48 833.85,88.68 834.49,88.89 835.14,89.10 835.78,89.32 836.43,89.55 837.07,89.78 837.72,90.02 838.36,90.26 839.00,90.51 839.65,90.76 840.29,91.03 840.94,91.29 841.58,91.57 842.22,91.85 842.87,92.13 843.51,92.42 844.16,92.72 844.80,93.02 845.44,93.32 846.09,93.64 846.73,93.96 847.38,94.28 848.02,94.61 848.67,94.94 849.31,95.28 849.95,95.62 850.60,95.97 851.24,96.33 851.89,96.69 852.53,97.05 853.17,97.42 853.82,97.80 854.46,98.17 855.11,98.56 855.75,98.95 856.39,99.34 857.04,99.74 857.68,100.14 858.33,100.55 858.97,100.96 859.62,101.37 860.26,101.79 860.90,102.22 861.55,102.64 862.19,103.08 862.84,103.51 863.48,103.95 864.12,104.40 864.77,104.84 865.41,105.30 866.06,105.75 866.70,106.21 867.34,106.68 867.99,107.14 868.63,107.61 869.28,108.09 869.92,108.56 870.57,109.04 871.21,109.53 871.85,110.02 872.50,110.51 873.14,111.00 873.79,111.50 874.43,112.00 875.07,112.50 875.72,113.01 876.36,113.52 877.01,114.03 877.65,114.54 878.29,115.06 878.94,115.58 879.58,116.11 880.23,116.63 880.87,117.16 881.51,117.69 882.16,118.22 882.80,118.76 883.45,119.30 884.09,119.84 884.74,120.38 885.38,120.93 886.02,121.47 886.67,122.02 887.31,122.57 887.96,123.13 888.60,123.68 889.24,124.24 889.89,124.80 890.53,125.36 891.18,125.92 891.82,126.49 892.46,127.05 893.11,127.62 893.75,128.19 894.40,128.76 895.04,129.34 895.69,129.91 896.33,130.49 896.97,131.07 897.62,131.64 898.26,132.23 898.91,132.81 899.55,133.39 900.19,133.97 900.84,134.56 901.48,135.15 902.13,135.73 902.77,136.32 903.41,136.91 904.06,137.50 904.70,138.10 905.35,138.69 905.99,139.28 906.64,139.88 907.28,140.48 907.92,141.07 908.57,141.67 909.21,142.27 909.86,142.87 910.50,143.47 911.14,144.07 911.79,144.67 912.43,145.27 913.08,145.87 913.72,146.48 914.36,147.08 915.01,147.68 915.65,148.29 916.30,148.89 916.94,149.50 917.59,150.11 918.23,150.71 918.87,151.32 919.52,151.93 920.16,152.53 920.81,153.14 921.45,153.75 922.09,154.36 922.74,154.97 923.38,155.57 924.03,156.18 924.67,156.79 925.31,157.40 925.96,158.01 926.60,158.62 927.25,159.23 927.89,159.84 928.54,160.45 929.18,161.06 929.82,161.67 930.47,162.28 931.11,162.89 931.76,163.50 932.40,164.10 933.04,164.71 933.69,165.32 934.33,165.93 934.98,166.54 935.62,167.15 936.26,167.76 936.91,168.37 937.55,168.97 938.20,169.58 938.84,170.19 939.49,170.80 940.13,171.40 940.77,172.01 941.42,172.62 942.06,173.22 942.71,173.83 943.35,174.44 943.99,175.04 944.64,175.65 945.28,176.25 945.93,176.85 946.57,177.46 947.21,178.06 947.86,178.66 948.50,179.27" fill="none" stroke="#77AC30" stroke-width="1.35" clip-path="url(#cp1)"/>
<rect x="608.30" y="57.90" width="4.4" height="15.70" fill="#000"/><path d="M603.85 73.10 L617.15 73.10 L610.50 86.50Z" fill="#000"/>
<rect x="609.8" y="84" width="1.5" height="6.6" fill="#000"/>
<rect x="443.05" y="240.10" width="3.9" height="36.80" fill="#5093D2"/><path d="M438.40 276.40 L451.60 276.40 L445.00 288.70Z" fill="#5093D2"/>
<rect x="414.50" y="290.25" width="61.00" height="108.40" fill="#fff" stroke="#4686CA" stroke-width="2.9"/>
<path d="M441.70 301.9 V321.2 M441.70 335.2 V355.8 M432.20 335.5 H451.00" fill="none" stroke="#000" stroke-width="1.35"/>
<path d="M431.50 321.2 H452.30 L441.70 335.2 Z" fill="none" stroke="#000" stroke-width="1.6" stroke-linejoin="miter"/>
<path d="M426.40 356.8 V391.2" stroke="#a8a8a8" stroke-width="1.4" fill="none"/>
<path d="M426.40 391.0 H461.60" stroke="#000" stroke-width="2.2" fill="none"/>
<path d="M427.00 370.9 C429.40 370.5 431.40 371.3 433.90 370.9 S436.40 370.2 437.60 370.2 C440.90 370.2 442.90 371.5 444.00 375.0 C445.20 379 446.40 384 446.50 390.9" stroke="#000" stroke-width="2.5" fill="none"/>
<rect x="443.10" y="399.50" width="3.8" height="8.90" fill="#5093D2"/><path d="M438.45 407.90 L451.55 407.90 L445.00 420.40Z" fill="#5093D2"/>
<circle cx="445.00" cy="452.05" r="29.90" fill="#fff" stroke="#4686CA" stroke-width="2.9"/>
<text x="436.63" y="462.90" font-size="29.3" font-weight="normal" font-style="normal" textLength="17.25" lengthAdjust="spacingAndGlyphs" fill="#000" >C</text>
<rect x="441.40" y="484.0" width="4.6" height="4.3" fill="#5093D2"/>
<rect x="441.40" y="493.5" width="4.6" height="4.3" fill="#5093D2"/>
<rect x="441.40" y="503.0" width="4.6" height="4.3" fill="#5093D2"/>
<path d="M437.10 508.1 L450.30 508.1 L443.70 521.4Z" fill="#5093D2"/>
<rect x="516.25" y="240.10" width="3.9" height="36.80" fill="#C55A11"/><path d="M511.60 276.40 L524.80 276.40 L518.20 288.70Z" fill="#C55A11"/>
<rect x="487.70" y="290.25" width="61.00" height="108.40" fill="#fff" stroke="#B84E0E" stroke-width="2.9"/>
<path d="M515.80 301.9 V321.2 M515.80 335.2 V355.8 M506.30 335.5 H525.10" fill="none" stroke="#000" stroke-width="1.35"/>
<path d="M505.60 321.2 H526.40 L515.80 335.2 Z" fill="none" stroke="#000" stroke-width="1.6" stroke-linejoin="miter"/>
<path d="M500.50 356.8 V391.2" stroke="#a8a8a8" stroke-width="1.4" fill="none"/>
<path d="M500.50 391.0 H535.70" stroke="#000" stroke-width="2.2" fill="none"/>
<path d="M501.10 370.9 C503.50 370.5 505.50 371.3 508.00 370.9 S510.50 370.2 511.70 370.2 C515.00 370.2 517.00 371.5 518.10 375.0 C519.30 379 520.50 384 520.60 390.9" stroke="#000" stroke-width="2.5" fill="none"/>
<rect x="516.30" y="399.50" width="3.8" height="8.90" fill="#C55A11"/><path d="M511.65 407.90 L524.75 407.90 L518.20 420.40Z" fill="#C55A11"/>
<circle cx="518.20" cy="452.05" r="29.90" fill="#fff" stroke="#B84E0E" stroke-width="2.9"/>
<text x="509.83" y="462.90" font-size="29.3" font-weight="normal" font-style="normal" textLength="17.25" lengthAdjust="spacingAndGlyphs" fill="#000" >C</text>
<rect x="514.60" y="484.0" width="4.6" height="4.3" fill="#C55A11"/>
<rect x="514.60" y="493.5" width="4.6" height="4.3" fill="#C55A11"/>
<rect x="514.60" y="503.0" width="4.6" height="4.3" fill="#C55A11"/>
<path d="M510.30 508.1 L523.50 508.1 L516.90 521.4Z" fill="#C55A11"/>
<rect x="608.35" y="240.10" width="3.9" height="36.80" fill="#BF9000"/><path d="M603.70 276.40 L616.90 276.40 L610.30 288.70Z" fill="#BF9000"/>
<rect x="579.80" y="290.25" width="61.00" height="108.40" fill="#fff" stroke="#B68800" stroke-width="2.9"/>
<path d="M608.10 301.9 V321.2 M608.10 335.2 V355.8 M598.60 335.5 H617.40" fill="none" stroke="#000" stroke-width="1.35"/>
<path d="M597.90 321.2 H618.70 L608.10 335.2 Z" fill="none" stroke="#000" stroke-width="1.6" stroke-linejoin="miter"/>
<path d="M592.80 356.8 V391.2" stroke="#a8a8a8" stroke-width="1.4" fill="none"/>
<path d="M592.80 391.0 H628.00" stroke="#000" stroke-width="2.2" fill="none"/>
<path d="M593.40 370.9 C595.80 370.5 597.80 371.3 600.30 370.9 S602.80 370.2 604.00 370.2 C607.30 370.2 609.30 371.5 610.40 375.0 C611.60 379 612.80 384 612.90 390.9" stroke="#000" stroke-width="2.5" fill="none"/>
<rect x="608.40" y="399.50" width="3.8" height="8.90" fill="#BF9000"/><path d="M603.75 407.90 L616.85 407.90 L610.30 420.40Z" fill="#BF9000"/>
<circle cx="610.30" cy="452.05" r="29.90" fill="#fff" stroke="#B68800" stroke-width="2.9"/>
<text x="601.93" y="462.90" font-size="29.3" font-weight="normal" font-style="normal" textLength="17.25" lengthAdjust="spacingAndGlyphs" fill="#000" >C</text>
<rect x="607.10" y="483.00" width="4.0" height="56.50" fill="#BF9000"/><path d="M602.40 539.00 L615.80 539.00 L609.10 552.00Z" fill="#BF9000"/>
<rect x="700.35" y="240.10" width="3.9" height="36.80" fill="#944BD0"/><path d="M695.70 276.40 L708.90 276.40 L702.30 288.70Z" fill="#944BD0"/>
<rect x="671.80" y="290.25" width="61.00" height="108.40" fill="#fff" stroke="#8440C4" stroke-width="2.9"/>
<path d="M698.90 301.9 V321.2 M698.90 335.2 V355.8 M689.40 335.5 H708.20" fill="none" stroke="#000" stroke-width="1.35"/>
<path d="M688.70 321.2 H709.50 L698.90 335.2 Z" fill="none" stroke="#000" stroke-width="1.6" stroke-linejoin="miter"/>
<path d="M683.60 356.8 V391.2" stroke="#a8a8a8" stroke-width="1.4" fill="none"/>
<path d="M683.60 391.0 H718.80" stroke="#000" stroke-width="2.2" fill="none"/>
<path d="M684.20 370.9 C686.60 370.5 688.60 371.3 691.10 370.9 S693.60 370.2 694.80 370.2 C698.10 370.2 700.10 371.5 701.20 375.0 C702.40 379 703.60 384 703.70 390.9" stroke="#000" stroke-width="2.5" fill="none"/>
<rect x="700.40" y="399.50" width="3.8" height="8.90" fill="#944BD0"/><path d="M695.75 407.90 L708.85 407.90 L702.30 420.40Z" fill="#944BD0"/>
<circle cx="702.30" cy="452.05" r="29.90" fill="#fff" stroke="#8440C4" stroke-width="2.9"/>
<text x="693.93" y="462.90" font-size="29.3" font-weight="normal" font-style="normal" textLength="17.25" lengthAdjust="spacingAndGlyphs" fill="#000" >C</text>
<rect x="698.70" y="484.0" width="4.6" height="4.3" fill="#944BD0"/>
<rect x="698.70" y="493.5" width="4.6" height="4.3" fill="#944BD0"/>
<rect x="698.70" y="503.0" width="4.6" height="4.3" fill="#944BD0"/>
<path d="M694.40 508.1 L707.60 508.1 L701.00 521.4Z" fill="#944BD0"/>
<rect x="807.95" y="240.10" width="3.9" height="36.80" fill="#548235"/><path d="M803.30 276.40 L816.50 276.40 L809.90 288.70Z" fill="#548235"/>
<rect x="779.40" y="290.25" width="61.00" height="108.40" fill="#fff" stroke="#4A792C" stroke-width="2.9"/>
<path d="M806.70 301.9 V321.2 M806.70 335.2 V355.8 M797.20 335.5 H816.00" fill="none" stroke="#000" stroke-width="1.35"/>
<path d="M796.50 321.2 H817.30 L806.70 335.2 Z" fill="none" stroke="#000" stroke-width="1.6" stroke-linejoin="miter"/>
<path d="M791.40 356.8 V391.2" stroke="#a8a8a8" stroke-width="1.4" fill="none"/>
<path d="M791.40 391.0 H826.60" stroke="#000" stroke-width="2.2" fill="none"/>
<path d="M792.00 370.9 C794.40 370.5 796.40 371.3 798.90 370.9 S801.40 370.2 802.60 370.2 C805.90 370.2 807.90 371.5 809.00 375.0 C810.20 379 811.40 384 811.50 390.9" stroke="#000" stroke-width="2.5" fill="none"/>
<rect x="808.00" y="399.50" width="3.8" height="8.90" fill="#548235"/><path d="M803.35 407.90 L816.45 407.90 L809.90 420.40Z" fill="#548235"/>
<circle cx="809.90" cy="452.05" r="29.90" fill="#fff" stroke="#4A792C" stroke-width="2.9"/>
<text x="801.53" y="462.90" font-size="29.3" font-weight="normal" font-style="normal" textLength="17.25" lengthAdjust="spacingAndGlyphs" fill="#000" >C</text>
<rect x="806.30" y="484.0" width="4.6" height="4.3" fill="#548235"/>
<rect x="806.30" y="493.5" width="4.6" height="4.3" fill="#548235"/>
<rect x="806.30" y="503.0" width="4.6" height="4.3" fill="#548235"/>
<path d="M802.00 508.1 L815.20 508.1 L808.60 521.4Z" fill="#548235"/>
<rect x="392.8" y="558.6" width="458.00" height="98.40" fill="none" stroke="#1a1a1a" stroke-width="1.3"/>
<path d="M545.47 657.0 v-3.6 M545.47 558.6 v3.6 M698.13 657.0 v-3.6 M698.13 558.6 v3.6 M392.8 598.10 h3.6 M850.8 598.10 h-3.6 M392.8 637.60 h3.6 M850.8 637.60 h-3.6" stroke="#1a1a1a" stroke-width="1" fill="none"/>
<text x="389.80" y="676.00" font-size="11.3" font-weight="normal" font-style="normal" textLength="6.60" lengthAdjust="spacingAndGlyphs" fill="#222" >0</text>
<text x="539.16" y="676.00" font-size="11.3" font-weight="normal" font-style="normal" textLength="13.20" lengthAdjust="spacingAndGlyphs" fill="#222" >50</text>
<text x="688.32" y="676.00" font-size="11.3" font-weight="normal" font-style="normal" textLength="19.80" lengthAdjust="spacingAndGlyphs" fill="#222" >100</text>
<text x="840.98" y="676.00" font-size="11.3" font-weight="normal" font-style="normal" textLength="19.80" lengthAdjust="spacingAndGlyphs" fill="#222" >150</text>
<text x="379.16" y="564.10" font-size="11.3" font-weight="normal" font-style="normal" textLength="6.60" lengthAdjust="spacingAndGlyphs" fill="#222" >0</text>
<text x="375.35" y="603.60" font-size="11.3" font-weight="normal" font-style="normal" textLength="10.55" lengthAdjust="spacingAndGlyphs" fill="#222" >-2</text>
<text x="375.10" y="643.10" font-size="11.3" font-weight="normal" font-style="normal" textLength="10.55" lengthAdjust="spacingAndGlyphs" fill="#222" >-4</text>
<g transform="rotate(-90)"><text x="-657.97" y="364.10" font-size="13.2" font-weight="normal" font-style="normal" textLength="100.28" lengthAdjust="spacingAndGlyphs" fill="#222" >magnitude (dB)</text></g>
<polyline points="395.70,666.85 395.85,656.70 396.01,647.04 396.16,637.85 396.31,629.11 396.46,620.84 396.62,613.04 396.77,605.71 396.92,598.86 397.07,592.52 397.23,586.70 397.38,581.41 397.53,576.66 397.69,572.48 397.84,568.86 397.99,565.80 398.14,563.30 398.30,561.36 398.45,559.95 398.60,559.05 398.75,558.64 398.91,558.68 399.06,559.14 399.21,559.99 399.36,561.19 399.52,562.70 399.67,564.49 399.82,566.52 399.98,568.76 400.13,571.18 400.28,573.75 400.43,576.45 400.59,579.26 400.74,582.15 400.89,585.11 401.04,588.12 401.20,591.17 401.35,594.24 401.50,597.33 401.65,600.43 401.81,603.52 401.96,606.61 402.11,609.69 402.27,612.75 402.42,615.79 402.57,618.80 402.72,621.79 402.88,624.75 403.03,627.68 403.18,630.58 403.33,633.44 403.49,636.27 403.64,639.07 403.79,641.83 403.94,644.56 404.10,647.25 404.25,649.91 404.40,652.53 404.56,655.12 404.71,657.68 404.86,660.20 405.01,662.69 405.17,665.14 405.32,667.57 405.47,669.96 405.62,672.32 405.78,674.65 405.93,676.95" fill="none" stroke="#111" stroke-width="1.15" clip-path="url(#cp2)"/>
<polyline points="400.13,675.12 400.28,671.06 400.43,667.07 400.59,663.16 400.74,659.32 400.89,655.54 401.04,651.84 401.20,648.21 401.35,644.64 401.50,641.14 401.65,637.71 401.81,634.34 401.96,631.04 402.11,627.81 402.27,624.64 402.42,621.54 402.57,618.51 402.72,615.54 402.88,612.64 403.03,609.81 403.18,607.05 403.33,604.36 403.49,601.74 403.64,599.19 403.79,596.72 403.94,594.31 404.10,591.98 404.25,589.73 404.40,587.55 404.56,585.45 404.71,583.42 404.86,581.47 405.01,579.61 405.17,577.82 405.32,576.11 405.47,574.48 405.62,572.93 405.78,571.47 405.93,570.08 406.08,568.78 406.23,567.56 406.39,566.42 406.54,565.36 406.69,564.38 406.85,563.48 407.00,562.66 407.15,561.92 407.30,561.26 407.46,560.67 407.61,560.16 407.76,559.73 407.91,559.37 408.07,559.08 408.22,558.86 408.37,558.70 408.52,558.62 408.68,558.60 408.83,558.65 408.98,558.75 409.14,558.92 409.29,559.14 409.44,559.42 409.59,559.75 409.75,560.13 409.90,560.56 410.05,561.05 410.20,561.57 410.36,562.14 410.51,562.75 410.66,563.40 410.81,564.09 410.97,564.82 411.12,565.58 411.27,566.37 411.43,567.19 411.58,568.04 411.73,568.92 411.88,569.82 412.04,570.75 412.19,571.70 412.34,572.67 412.49,573.66 412.65,574.67 412.80,575.70 412.95,576.74 413.10,577.80 413.26,578.87 413.41,579.95 413.56,581.05 413.72,582.16 413.87,583.27 414.02,584.40 414.17,585.53 414.33,586.67 414.48,587.82 414.63,588.97 414.78,590.12 414.94,591.28 415.09,592.45 415.24,593.62 415.39,594.79 415.55,595.96 415.70,597.13 415.85,598.31 416.01,599.48 416.16,600.66 416.31,601.84 416.46,603.01 416.62,604.19 416.77,605.36 416.92,606.53 417.07,607.70 417.23,608.87 417.38,610.03 417.53,611.20 417.68,612.36 417.84,613.51 417.99,614.67 418.14,615.82 418.30,616.96 418.45,618.11 418.60,619.25 418.75,620.38 418.91,621.52 419.06,622.64 419.21,623.77 419.36,624.89 419.52,626.00 419.67,627.11 419.82,628.22 419.97,629.32 420.13,630.42 420.28,631.51 420.43,632.59 420.59,633.68 420.74,634.75 420.89,635.83 421.04,636.89 421.20,637.96 421.35,639.01 421.50,640.07 421.65,641.12 421.81,642.16 421.96,643.20 422.11,644.23 422.26,645.26 422.42,646.28 422.57,647.30 422.72,648.31 422.88,649.32 423.03,650.32 423.18,651.32 423.33,652.31 423.49,653.30 423.64,654.28 423.79,655.26 423.94,656.23 424.10,657.20 424.25,658.17 424.40,659.12 424.55,660.08 424.71,661.03 424.86,661.97 425.01,662.91 425.17,663.85 425.32,664.78 425.47,665.70 425.62,666.62 425.78,667.54 425.93,668.45 426.08,669.36 426.23,670.26 426.39,671.16 426.54,672.05 426.69,672.94 426.84,673.83 427.00,674.71 427.15,675.59 427.30,676.46" fill="none" stroke="#111" stroke-width="1.15" clip-path="url(#cp2)"/>
<polyline points="411.88,676.92 412.04,675.36 412.19,673.80 412.34,672.25 412.49,670.72 412.65,669.20 412.80,667.68 412.95,666.18 413.10,664.69 413.26,663.21 413.41,661.74 413.56,660.28 413.72,658.83 413.87,657.39 414.02,655.96 414.17,654.54 414.33,653.13 414.48,651.73 414.63,650.34 414.78,648.96 414.94,647.59 415.09,646.23 415.24,644.88 415.39,643.54 415.55,642.20 415.70,640.88 415.85,639.57 416.01,638.27 416.16,636.98 416.31,635.69 416.46,634.42 416.62,633.15 416.77,631.90 416.92,630.66 417.07,629.42 417.23,628.19 417.38,626.98 417.53,625.77 417.68,624.58 417.84,623.39 417.99,622.21 418.14,621.04 418.30,619.89 418.45,618.74 418.60,617.60 418.75,616.47 418.91,615.35 419.06,614.24 419.21,613.14 419.36,612.05 419.52,610.97 419.67,609.90 419.82,608.84 419.97,607.80 420.13,606.76 420.28,605.73 420.43,604.71 420.59,603.70 420.74,602.70 420.89,601.71 421.04,600.73 421.20,599.77 421.35,598.81 421.50,597.86 421.65,596.93 421.81,596.00 421.96,595.09 422.11,594.18 422.26,593.29 422.42,592.41 422.57,591.53 422.72,590.67 422.88,589.82 423.03,588.98 423.18,588.15 423.33,587.34 423.49,586.53 423.64,585.74 423.79,584.95 423.94,584.18 424.10,583.42 424.25,582.67 424.40,581.93 424.55,581.20 424.71,580.49 424.86,579.78 425.01,579.09 425.17,578.41 425.32,577.74 425.47,577.08 425.62,576.43 425.78,575.80 425.93,575.17 426.08,574.56 426.23,573.96 426.39,573.37 426.54,572.80 426.69,572.23 426.84,571.68 427.00,571.14 427.15,570.61 427.30,570.09 427.46,569.59 427.61,569.09 427.76,568.61 427.91,568.14 428.07,567.68 428.22,567.23 428.37,566.80 428.52,566.38 428.68,565.96 428.83,565.56 428.98,565.18 429.13,564.80 429.29,564.44 429.44,564.08 429.59,563.74 429.75,563.41 429.90,563.09 430.05,562.78 430.20,562.49 430.36,562.20 430.51,561.93 430.66,561.67 430.81,561.42 430.97,561.18 431.12,560.95 431.27,560.74 431.42,560.53 431.58,560.33 431.73,560.15 431.88,559.98 432.04,559.81 432.19,559.66 432.34,559.52 432.49,559.39 432.65,559.27 432.80,559.16 432.95,559.06 433.10,558.97 433.26,558.89 433.41,558.82 433.56,558.76 433.71,558.71 433.87,558.67 434.02,558.64 434.17,558.62 434.33,558.60 434.48,558.60 434.63,558.61 434.78,558.62 434.94,558.65 435.09,558.68 435.24,558.72 435.39,558.77 435.55,558.83 435.70,558.90 435.85,558.98 436.00,559.06 436.16,559.15 436.31,559.25 436.46,559.36 436.62,559.48 436.77,559.60 436.92,559.74 437.07,559.87 437.23,560.02 437.38,560.18 437.53,560.34 437.68,560.50 437.84,560.68 437.99,560.86 438.14,561.05 438.29,561.24 438.45,561.45 438.60,561.65 438.75,561.87 438.91,562.09 439.06,562.31 439.21,562.55 439.36,562.78 439.52,563.03 439.67,563.28 439.82,563.53 439.97,563.79 440.13,564.06 440.28,564.33 440.43,564.61 440.58,564.89 440.74,565.17 440.89,565.46 441.04,565.76 441.20,566.06 441.35,566.37 441.50,566.67 441.65,566.99 441.81,567.31 441.96,567.63 442.11,567.95 442.26,568.28 442.42,568.62 442.57,568.95 442.72,569.30 442.87,569.64 443.03,569.99 443.18,570.34 443.33,570.70 443.49,571.05 443.64,571.42 443.79,571.78 443.94,572.15 444.10,572.52 444.25,572.89 444.40,573.27 444.55,573.65 444.71,574.03 444.86,574.42 445.01,574.80 445.16,575.19 445.32,575.59 445.47,575.98 445.62,576.38 445.78,576.78 445.93,577.18 446.08,577.58 446.23,577.98 446.39,578.39 446.54,578.80 446.69,579.21 446.84,579.62 447.00,580.04 447.15,580.45 447.30,580.87 447.45,581.29 447.61,581.71 447.76,582.13 447.91,582.56 448.07,582.98 448.22,583.41 448.37,583.84 448.52,584.26 448.68,584.69 448.83,585.12 448.98,585.56 449.13,585.99 449.29,586.42 449.44,586.86 449.59,587.29 449.74,587.73 449.90,588.17 450.05,588.61 450.20,589.04 450.36,589.48 450.51,589.92 450.66,590.37 450.81,590.81 450.97,591.25 451.12,591.69 451.27,592.14 451.42,592.58 451.58,593.02 451.73,593.47 451.88,593.91 452.03,594.36 452.19,594.80 452.34,595.25 452.49,595.70 452.65,596.14 452.80,596.59 452.95,597.04 453.10,597.48 453.26,597.93 453.41,598.38 453.56,598.82 453.71,599.27 453.87,599.72 455.39,604.19 456.92,608.64 458.45,613.07 459.97,617.44 461.50,621.77 463.03,626.03 464.55,630.23 466.08,634.37 467.61,638.43 469.13,642.42 470.66,646.33 472.19,650.18 473.71,653.95 475.24,657.65 476.77,661.29 478.29,664.85 479.82,668.35 481.35,671.78 482.87,675.14" fill="none" stroke="#111" stroke-width="1.15" clip-path="url(#cp2)"/>
<polyline points="443.03,676.65 443.18,676.05 443.33,675.45 443.49,674.86 443.64,674.27 443.79,673.68 443.94,673.09 444.10,672.50 444.25,671.92 444.40,671.33 444.55,670.75 444.71,670.17 444.86,669.59 445.01,669.01 445.16,668.43 445.32,667.86 445.47,667.29 445.62,666.72 445.78,666.15 445.93,665.58 446.08,665.01 446.23,664.44 446.39,663.88 446.54,663.32 446.69,662.76 446.84,662.20 447.00,661.64 447.15,661.08 447.30,660.53 447.45,659.97 447.61,659.42 447.76,658.87 447.91,658.32 448.07,657.77 448.22,657.23 448.37,656.68 448.52,656.14 448.68,655.60 448.83,655.06 448.98,654.52 449.13,653.98 449.29,653.44 449.44,652.91 449.59,652.38 449.74,651.84 449.90,651.31 450.05,650.79 450.20,650.26 450.36,649.73 450.51,649.21 450.66,648.68 450.81,648.16 450.97,647.64 451.12,647.12 451.27,646.61 451.42,646.09 451.58,645.57 451.73,645.06 451.88,644.55 452.03,644.04 452.19,643.53 452.34,643.02 452.49,642.52 452.65,642.01 452.80,641.51 452.95,641.01 453.10,640.50 453.26,640.01 453.41,639.51 453.56,639.01 453.71,638.52 453.87,638.02 455.39,633.16 456.92,628.44 458.45,623.86 459.97,619.42 461.50,615.11 463.03,610.95 464.55,606.94 466.08,603.07 467.61,599.35 469.13,595.78 470.66,592.37 472.19,589.11 473.71,586.01 475.24,583.07 476.77,580.30 478.29,577.69 479.82,575.25 481.35,572.98 482.87,570.88 484.40,568.95 485.93,567.19 487.45,565.61 488.98,564.19 490.51,562.94 492.03,561.85 493.56,560.93 495.09,560.17 496.61,559.56 498.14,559.10 499.67,558.80 501.19,558.63 502.72,558.61 504.25,558.71 505.77,558.94 507.30,559.29 508.83,559.76 510.35,560.33 511.88,561.01 513.41,561.78 514.93,562.64 516.46,563.58 517.99,564.60 519.51,565.70 521.04,566.86 522.57,568.09 524.09,569.37 525.62,570.70 527.15,572.08 528.67,573.51 530.20,574.97 531.73,576.47 533.25,578.00 534.78,579.56 536.31,581.14 537.83,582.75 539.36,584.37 540.89,586.02 542.41,587.67 543.94,589.34 545.47,591.02 546.99,592.70 548.52,594.40 550.05,596.09 551.57,597.79 553.10,599.49 554.63,601.20 556.15,602.90 557.68,604.60 559.21,606.29 560.73,607.99 562.26,609.68 563.79,611.36 565.31,613.04 566.84,614.71 568.37,616.37 569.89,618.03 571.42,619.68 572.95,621.32 574.47,622.95 576.00,624.58 577.53,626.19 579.05,627.80 580.58,629.39 582.11,630.98 583.63,632.55 585.16,634.12 586.69,635.67 588.21,637.22 589.74,638.75 591.27,640.28 592.79,641.79 594.32,643.30 595.85,644.79 597.37,646.27 598.90,647.74 600.43,649.20 601.95,650.65 603.48,652.10 605.01,653.53 606.53,654.95 608.06,656.36 609.59,657.75 611.11,659.14 612.64,660.52 614.17,661.89 615.69,663.25 617.22,664.60 618.75,665.94 620.27,667.27 621.80,668.59 623.33,669.90 624.85,671.21 626.38,672.50 627.91,673.78 629.43,675.06 630.96,676.32" fill="none" stroke="#111" stroke-width="1.15" clip-path="url(#cp2)"/>
<polyline points="525.62,675.60 527.15,673.35 528.67,671.13 530.20,668.92 531.73,666.74 533.25,664.58 534.78,662.44 536.31,660.33 537.83,658.23 539.36,656.16 540.89,654.11 542.41,652.08 543.94,650.06 545.47,648.07 546.99,646.10 548.52,644.15 550.05,642.23 551.57,640.32 553.10,638.43 554.63,636.56 556.15,634.71 557.68,632.88 559.21,631.07 560.73,629.29 562.26,627.52 563.79,625.77 565.31,624.04 566.84,622.33 568.37,620.65 569.89,618.98 571.42,617.33 572.95,615.71 574.47,614.10 576.00,612.52 577.53,610.95 579.05,609.41 580.58,607.89 582.11,606.38 583.63,604.90 585.16,603.45 586.69,602.01 588.21,600.59 589.74,599.20 591.27,597.83 592.79,596.48 594.32,595.15 595.85,593.84 597.37,592.56 598.90,591.30 600.43,590.06 601.95,588.85 603.48,587.65 605.01,586.49 606.53,585.34 608.06,584.22 609.59,583.12 611.11,582.04 612.64,580.99 614.17,579.97 615.69,578.96 617.22,577.98 618.75,577.03 620.27,576.10 621.80,575.19 623.33,574.31 624.85,573.46 626.38,572.62 627.91,571.82 629.43,571.03 630.96,570.27 632.49,569.54 634.01,568.83 635.54,568.15 637.07,567.49 638.59,566.85 640.12,566.24 641.65,565.65 643.17,565.09 644.70,564.56 646.23,564.04 647.75,563.56 649.28,563.09 650.81,562.65 652.33,562.23 653.86,561.84 655.39,561.47 656.91,561.13 658.44,560.80 659.97,560.50 661.49,560.23 663.02,559.97 664.55,559.74 666.07,559.53 667.60,559.34 669.13,559.18 670.65,559.03 672.18,558.91 673.71,558.81 675.23,558.73 676.76,558.67 678.29,558.62 679.81,558.60 681.34,558.60 682.87,558.62 684.39,558.65 685.92,558.71 687.45,558.78 688.97,558.87 690.50,558.98 692.03,559.11 693.55,559.25 695.08,559.41 696.61,559.58 698.13,559.78 699.66,559.98 701.19,560.20 702.71,560.44 704.24,560.69 705.77,560.96 707.29,561.24 708.82,561.53 710.35,561.84 711.87,562.16 713.40,562.49 714.93,562.83 716.45,563.19 717.98,563.56 719.51,563.94 721.03,564.33 722.56,564.73 724.09,565.14 725.61,565.56 727.14,565.99 728.67,566.43 730.19,566.88 731.72,567.34 733.25,567.81 734.77,568.28 736.30,568.77 737.83,569.26 739.35,569.76 740.88,570.27 742.41,570.78 743.93,571.30 745.46,571.83 746.99,572.36 748.51,572.90 750.04,573.45 751.57,574.00 753.09,574.56 754.62,575.12 756.15,575.69 757.67,576.26 759.20,576.83 760.73,577.42 762.25,578.00 763.78,578.59 765.31,579.18 766.83,579.78 768.36,580.38 769.89,580.99 771.41,581.59 772.94,582.20 774.47,582.82 775.99,583.43 777.52,584.05 779.05,584.67 780.57,585.30 782.10,585.92 783.63,586.55 785.15,587.18 786.68,587.81 788.21,588.44 789.73,589.08 791.26,589.71 792.79,590.35 794.31,590.99 795.84,591.63 797.37,592.27 798.89,592.91 800.42,593.56 801.95,594.20 803.47,594.85 805.00,595.49 806.53,596.14 808.05,596.78 809.58,597.43 811.11,598.08 812.63,598.72 814.16,599.37 815.69,600.02 817.21,600.66 818.74,601.31 820.27,601.96 821.79,602.60 823.32,603.25 824.85,603.90 826.37,604.54 827.90,605.19 829.43,605.83 830.95,606.48 832.48,607.12 834.01,607.77 835.53,608.41 837.06,609.05 838.59,609.69 840.11,610.33 841.64,610.97 843.17,611.61 844.69,612.25 846.22,612.89 847.75,613.52 849.27,614.16 850.80,614.79 852.33,615.43 853.85,616.06 855.38,616.69" fill="none" stroke="#111" stroke-width="1.15" clip-path="url(#cp2)"/>
<rect x="391.80" y="661.20" width="4.4" height="4.4" fill="#000"/>
<rect x="391.80" y="670.40" width="4.4" height="4.4" fill="#000"/>
<rect x="391.80" y="679.60" width="4.4" height="4.4" fill="#000"/>
<rect x="391.80" y="688.80" width="4.4" height="4.4" fill="#000"/>
<rect x="391.80" y="698.00" width="4.4" height="4.4" fill="#000"/>
<path d="M387.30 707.20 L400.70 707.20 L394.00 720.50Z" fill="#000"/>
<rect x="408.70" y="661.20" width="4.4" height="4.4" fill="#000"/>
<rect x="408.70" y="670.40" width="4.4" height="4.4" fill="#000"/>
<rect x="408.70" y="679.60" width="4.4" height="4.4" fill="#000"/>
<rect x="408.70" y="688.80" width="4.4" height="4.4" fill="#000"/>
<rect x="408.70" y="698.00" width="4.4" height="4.4" fill="#000"/>
<path d="M404.20 707.20 L417.60 707.20 L410.90 720.50Z" fill="#000"/>
<rect x="435.80" y="661.20" width="4.4" height="4.4" fill="#000"/>
<rect x="435.80" y="670.40" width="4.4" height="4.4" fill="#000"/>
<rect x="435.80" y="679.60" width="4.4" height="4.4" fill="#000"/>
<rect x="435.80" y="688.80" width="4.4" height="4.4" fill="#000"/>
<rect x="435.80" y="698.00" width="4.4" height="4.4" fill="#000"/>
<path d="M431.30 707.20 L444.70 707.20 L438.00 720.50Z" fill="#000"/>
<rect x="503.40" y="659.80" width="4.4" height="4.4" fill="#000"/>
<rect x="503.40" y="669.00" width="4.4" height="4.4" fill="#000"/>
<rect x="503.40" y="678.20" width="4.4" height="4.4" fill="#000"/>
<rect x="503.40" y="687.40" width="4.4" height="4.4" fill="#000"/>
<rect x="503.40" y="696.60" width="4.4" height="4.4" fill="#000"/>
<path d="M498.90 705.80 L512.30 705.80 L505.60 719.10Z" fill="#000"/>
<rect x="680.30" y="661.30" width="4.4" height="4.4" fill="#000"/>
<rect x="680.30" y="670.50" width="4.4" height="4.4" fill="#000"/>
<rect x="680.30" y="679.70" width="4.4" height="4.4" fill="#000"/>
<rect x="680.30" y="688.90" width="4.4" height="4.4" fill="#000"/>
<rect x="680.30" y="698.10" width="4.4" height="4.4" fill="#000"/>
<path d="M675.80 707.30 L689.20 707.30 L682.50 720.60Z" fill="#000"/>
</svg>
</body></html>
